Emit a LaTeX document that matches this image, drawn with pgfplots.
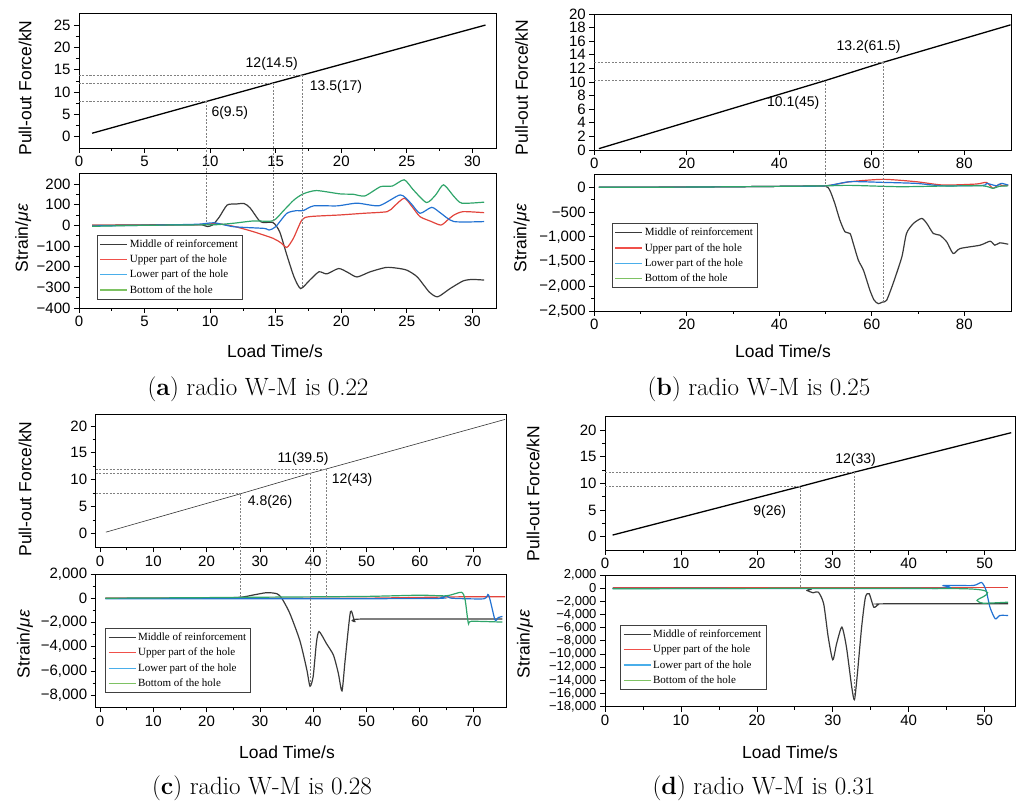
\documentclass[border=0pt]{standalone}
\usepackage{fontspec}
\usepackage{pgfplots}
\pgfplotsset{compat=1.18}
\newfontfamily\sansf{Liberation Sans}
\newfontfamily\timesf{Liberation Serif}
\definecolor{cblk}{HTML}{3A3A3A}
\definecolor{cred}{HTML}{E2443C}
\definecolor{cblu}{HTML}{2272D2}
\definecolor{cgrn}{HTML}{2FA56A}
\definecolor{lred}{HTML}{F0504A}
\definecolor{lblu}{HTML}{4AAEEA}
\definecolor{lgrn}{HTML}{7EC263}
\definecolor{guidec}{HTML}{808080}
\tikzset{
  guideline/.style={guidec, line width=0.8pt, dash pattern=on 2pt off 1.5pt},
  ann/.style={font=\sansf\fontsize{14}{16}\selectfont},
}
\pgfplotsset{
  base/.style={scale only axis, axis line style={line width=0.8pt},
    tick style={black, line width=0.7pt}, tick align=outside,
    xtick pos=bottom, ytick pos=left, major tick length=5pt, minor tick length=3pt,
    tick label style={font=\sansf\fontsize{15}{17}\selectfont},
    scaled ticks=false,
    /pgf/number format/assume math mode=true, anchor=south west},
  strain/.style={base, legend cell align=left,
    legend image code/.code={\draw[##1, line width=1.2pt] (0pt,0pt) -- (27pt,0pt);},
    legend style={anchor=north west, font=\timesf\fontsize{11}{12}\selectfont,
      draw=black!75, line width=0.5pt, inner sep=2.5pt, row sep=2pt, fill=white}},
}
\newcommand\leg{%
  \addlegendimage{cblk}\addlegendentry{Middle of reinforcement}
  \addlegendimage{lred}\addlegendentry{Upper part of the hole}
  \addlegendimage{lblu}\addlegendentry{Lower part of the hole}
  \addlegendimage{lgrn}\addlegendentry{Bottom of the hole}}
\begin{document}
\begin{tikzpicture}[x=1pt,y=1pt]
\path[use as bounding box] (0,0) rectangle (1018,805);
% ---------------- (a) top
\begin{axis}[base, at={(79pt,657pt)}, width=417pt, height=135pt,
  xmin=0, xmax=31.8, ymin=-2.5, ymax=27.7,
  xtick={0,5,...,30}, ytick={0,5,...,25}, minor tick num=1]
\addplot[black, line width=1.3pt] coordinates {(1,0.8) (9.7,7.9) (14.8,12.05) (17,13.8) (31,25)};
\draw[guideline] (axis cs:0,7.9) -- (axis cs:9.7,7.9);
\draw[guideline] (axis cs:0,12.05) -- (axis cs:14.8,12.05);
\draw[guideline] (axis cs:0,13.8) -- (axis cs:17,13.8);
\coordinate (a1) at (axis cs:9.7,7.9);
\coordinate (a2) at (axis cs:14.8,12.05);
\coordinate (a3) at (axis cs:17,13.8);
\node[ann] at (axis cs:14.7,16.4) {12(14.5)};
\node[ann] at (axis cs:11.5,5.3) {6(9.5)};
\node[ann] at (axis cs:19.6,11.1) {13.5(17)};
\end{axis}
% ---------------- (a) bottom
\begin{axis}[strain, at={(79pt,497pt)}, width=417pt, height=135pt,
  xmin=0, xmax=31.8, ymin=-400, ymax=253,
  xtick={0,5,...,30}, ytick={-400,-300,...,200}, minor tick num=1,
  yticklabels={−400,−300,−200,−100,0,100,200},
  legend style={at={(0.043,0.541)}}]
\leg
\addplot[cblk, line width=1.2pt, smooth, tension=0.4, forget plot] coordinates {(1,0) (5,2) (9,3) (9.5,0) (9.8,-6) (10.2,2) (10.7,40) (11.3,98) (12.0,103) (12.6,105) (13.05,84) (13.7,26) (14.05,13) (14.8,13) (15.3,-31) (15.85,-144) (16.4,-250) (16.9,-306) (17.6,-265) (18.3,-225) (18.9,-235) (19.8,-209) (20.5,-228) (21.2,-250) (22.2,-225) (23.4,-204) (24.2,-207) (25.0,-217) (25.8,-250) (26.7,-322) (27.35,-346) (28.3,-306) (29.3,-269) (30.0,-262) (30.9,-265)};
\addplot[cred, line width=1.2pt, smooth, tension=0.4, forget plot] coordinates {(1,0) (5,1) (9,3) (10.5,8) (11.8,-5) (13.3,-31) (14.8,-63) (15.4,-85) (15.85,-107) (16.35,-63) (17.0,26) (17.6,42) (19.9,50) (21.7,58) (23.5,66) (24.0,90) (24.8,131) (25.4,90) (26.0,42) (26.8,20) (27.6,1) (28.1,25) (28.6,50) (29.3,66) (30.9,61)};
\addplot[cblu, line width=1.2pt, smooth, tension=0.4, forget plot] coordinates {(1,-3) (5,0) (9,5) (10.3,12) (11.8,-7) (14.1,-15) (14.5,-23) (15.0,-7) (15.85,58) (16.6,71) (17.1,71) (17.9,94) (19.7,94) (21.2,107) (22.9,95) (24.5,147) (25.3,107) (26.0,58) (26.9,87) (27.6,58) (28.6,18) (30.9,18)};
\addplot[cgrn, line width=1.2pt, smooth, tension=0.4, forget plot] coordinates {(1,-5) (5,0) (9,2) (10.5,3) (11.8,10) (13.3,21) (14.8,22) (15.6,71) (16.4,123) (17.1,152) (18.1,168) (19.9,152) (20.9,150) (21.8,142) (23.0,187) (23.9,190) (24.8,220) (25.5,171) (26.5,110) (27.2,147) (27.8,196) (28.6,139) (29.2,107) (30.9,112)};
\coordinate (a1b) at (axis cs:9.7,0);
\coordinate (a2b) at (axis cs:14.8,15);
\coordinate (a3b) at (axis cs:17,-306);
\end{axis}
\draw[guideline] (a1) -- (a1b); \draw[guideline] (a2) -- (a2b); \draw[guideline] (a3) -- (a3b);
% ---------------- (b) top
\begin{axis}[base, at={(594.3pt,655pt)}, width=416.7pt, height=136pt,
  xmin=0, xmax=90.1, ymin=0, ymax=20,
  xtick={0,20,...,80}, ytick={0,2,...,20}, minor x tick num=1]
\addplot[black, line width=1.3pt] coordinates {(1,0.2) (49.9,10.2) (62.5,12.9) (90,18.4)};
\draw[guideline] (axis cs:0,10.2) -- (axis cs:49.9,10.2);
\draw[guideline] (axis cs:0,12.9) -- (axis cs:62.5,12.9);
\coordinate (b1) at (axis cs:49.9,10.2);
\coordinate (b2) at (axis cs:62.5,12.9);
\node[ann] at (axis cs:43,7.0) {10.1(45)};
\node[ann] at (axis cs:59.3,15.2) {13.2(61.5)};
\end{axis}
% ---------------- (b) bottom
\begin{axis}[strain, at={(594.3pt,494pt)}, width=416.7pt, height=137pt,
  xmin=0, xmax=90.1, ymin=-2500, ymax=270,
  xtick={0,20,...,80}, minor x tick num=1, ytick={-2500,-2000,...,0}, minor y tick num=1,
  yticklabels={{−2,500},{−2,000},{−1,500},{−1,000},−500,0},
  legend style={at={(0.042,0.64)}}]
\leg
\addplot[cblk, line width=1.2pt, smooth, tension=0.4, forget plot] coordinates {(1,0) (10,3) (20,8) (30,12) (40,20) (45,25) (49.9,26) (50.9,-55) (52.0,-325) (53.1,-663) (54.2,-900) (55.3,-933) (56.0,-1136) (57.1,-1474) (58.2,-1677) (59.6,-2082) (60.5,-2280) (61.4,-2352) (62.3,-2320) (63.2,-2285) (64.6,-1946) (66.5,-1406) (67.5,-933) (69.0,-730) (70.8,-628) (71.9,-730) (73.3,-933) (74.7,-967) (76.2,-1102) (77.6,-1338) (79.1,-1237) (83.4,-1170) (85.6,-1089) (86.6,-1170) (87.7,-1122) (89.5,-1150)};
\addplot[cred, line width=1.2pt, smooth, tension=0.4, forget plot] coordinates {(1,0) (20,5) (40,20) (49.9,30) (55.3,114) (62.5,162) (69.6,114) (75.4,47) (82.6,67) (84.8,100) (86.2,-20) (87.5,60) (88.3,30) (89.5,47)};
\addplot[cblu, line width=1.2pt, smooth, tension=0.4, forget plot] coordinates {(1,0) (20,5) (40,20) (49.9,30) (55.3,114) (62.5,100) (69.6,80) (75.4,30) (84.0,40) (84.8,80) (86.5,40) (87.0,30) (88.0,80) (89.5,45)};
\addplot[cgrn, line width=1.2pt, smooth, tension=0.4, forget plot] coordinates {(1,0) (20,5) (40,20) (49.9,30) (55.3,40) (66.0,13) (75.4,26) (84,30) (86.2,-20) (87.5,20) (89.5,30)};
\coordinate (b1b) at (axis cs:49.9,26);
\coordinate (b2b) at (axis cs:62.5,-2320);
\end{axis}
\draw[guideline] (b1) -- (b1b); \draw[guideline] (b2) -- (b2b);
% ---------------- (c) top
\begin{axis}[base, at={(95.7pt,257.7pt)}, width=411pt, height=133.3pt,
  xmin=-0.8, xmax=76.3, ymin=-2.5, ymax=22.2,
  xtick={0,10,...,70}, ytick={0,5,...,20}, minor tick num=1]
\addplot[black!80, line width=0.6pt] coordinates {(1.1,0.3) (26.3,7.4) (39.4,11.2) (42.4,12.0) (76,21.2)};
\draw[guideline] (axis cs:-0.8,7.4) -- (axis cs:26.3,7.4);
\draw[guideline] (axis cs:-0.8,11.2) -- (axis cs:39.4,11.2);
\draw[guideline] (axis cs:-0.8,12.0) -- (axis cs:42.4,12.0);
\coordinate (c1) at (axis cs:26.3,7.4);
\coordinate (c2) at (axis cs:39.4,11.2);
\coordinate (c3) at (axis cs:42.4,12.0);
\node[ann] at (axis cs:38.1,13.8) {11(39.5)};
\node[ann] at (axis cs:31.9,6.0) {4.8(26)};
\node[ann] at (axis cs:47.3,10.0) {12(43)};
\end{axis}
% ---------------- (c) bottom
\begin{axis}[strain, at={(95.7pt,97.7pt)}, width=411pt, height=133.3pt,
  xmin=-0.8, xmax=76.3, ymin=-9000, ymax=2000,
  xtick={0,10,...,70}, ytick={-8000,-6000,...,2000}, minor tick num=1,
  yticklabels={{−8,000},{−6,000},{−4,000},{−2,000},0,{2,000}},
  legend style={at={(0.023,0.593)}}]
\leg
\addplot[cblk, line width=1.2pt, smooth, tension=0.4, forget plot] coordinates {(1,0) (20,0) (26.3,80) (28.8,270) (31.3,460) (33.2,370) (34.1,0) (35.6,-1232) (37.5,-3500) (38.8,-5890) (39.4,-7264) (40.0,-6442) (40.6,-3700) (41.1,-2745) (42.5,-3750) (43.8,-4700) (44.7,-6160) (45.4,-7650) (46.0,-5070) (47.0,-1100) (47.8,-1920) (49.0,-1720) (75.5,-1720)};
\addplot[cred, line width=1.2pt, forget plot] coordinates {(1,0) (50,0) (65,100) (70,130) (76,130)};
\addplot[cblu, line width=1.2pt, smooth, tension=0.4, forget plot] coordinates {(1,-50) (60,-30) (64,50) (65,200) (66,0) (72,-50) (72.9,270) (74.1,-1780) (74.7,-1600) (75.5,-1500)};
\addplot[cgrn, line width=1.2pt, smooth, tension=0.4, forget plot] coordinates {(1,0) (20,50) (35,100) (50,150) (60,250) (65,200) (67.8,490) (68.5,-140) (69.1,-2054) (69.7,-1900) (75.5,-1970)};
\coordinate (c1b) at (axis cs:26.3,80);
\coordinate (c2b) at (axis cs:39.4,-7264);
\coordinate (c3b) at (axis cs:42.4,100);
\end{axis}
\draw[guideline] (c1) -- (c1b); \draw[guideline] (c2) -- (c2b); \draw[guideline] (c3) -- (c3b);
% ---------------- (d) top
\begin{axis}[base, at={(605pt,255pt)}, width=410pt, height=133.3pt,
  xmin=0, xmax=54, ymin=-2.5, ymax=22.5,
  xtick={0,10,...,50}, ytick={0,5,...,20}, minor tick num=1]
\addplot[black, line width=1.3pt] coordinates {(1,0.3) (25.7,9.4) (32.85,12.1) (53.5,19.5)};
\draw[guideline] (axis cs:0,9.4) -- (axis cs:25.7,9.4);
\draw[guideline] (axis cs:0,12.1) -- (axis cs:32.85,12.1);
\coordinate (d1) at (axis cs:25.7,9.4);
\coordinate (d2) at (axis cs:32.85,12.1);
\node[ann] at (axis cs:21.7,4.6) {9(26)};
\node[ann] at (axis cs:33,14.4) {12(33)};
\end{axis}
% ---------------- (d) bottom
\begin{axis}[strain, at={(605pt,98.3pt)}, width=410pt, height=131.7pt,
  xmin=0, xmax=54, ymin=-18000, ymax=2000,
  xtick={0,10,...,50}, minor x tick num=1, ytick={-18000,-16000,...,2000},
  yticklabel style={font=\sansf\fontsize{13}{14}\selectfont},
  yticklabels={{−18,000},{−16,000},{−14,000},{−12,000},{−10,000},{−8,000},{−6,000},{−4,000},{−2,000},0,{2,000}},
  legend style={at={(0.037,0.62)}}]
\leg
\addplot[cblk, line width=1.2pt, smooth, tension=0.4, forget plot] coordinates {(1,0) (25.7,0) (26.6,-350) (27.4,-700) (28.1,-600) (28.8,-2370) (29.4,-7440) (30.0,-10880) (30.5,-8450) (31.2,-5920) (31.8,-8960) (32.5,-15040) (32.85,-16950) (33.2,-13520) (33.8,-5920) (34.3,-1370) (34.8,-850) (35.4,-2890) (36.0,-2480) (36.9,-2380) (53.1,-2380)};
\addplot[cred, line width=1.2pt, forget plot] coordinates {(1,150) (53.1,150)};
\addplot[cblu, line width=1.2pt, smooth, tension=0.4, forget plot] coordinates {(1,-50) (43,-50) (44.6,410) (48.5,400) (49.6,860) (50.2,-350) (50.7,-2890) (51.4,-4650) (52.0,-4150) (53.1,-4150)};
\addplot[cgrn, line width=1.2pt, smooth, tension=0.4, forget plot] coordinates {(1,-100) (47.7,-100) (49.0,-1870) (49.8,-2280) (53.1,-2130)};
\coordinate (d1b) at (axis cs:25.7,150);
\coordinate (d2b) at (axis cs:32.85,-16950);
\end{axis}
\draw[guideline] (d1) -- (d1b); \draw[guideline] (d2) -- (d2b);
% ---------------- labels
\begin{scope}[every node/.style={font=\sansf\fontsize{17.5}{20}\selectfont}]
\node[rotate=90] at (25,717) {Pull-out Force/kN};
\node[rotate=90] at (521.7,717.5) {Pull-out Force/kN};
\node[rotate=90] at (25,316) {Pull-out Force/kN};
\node[rotate=90] at (533,311.5) {Pull-out Force/kN};
\node[rotate=90] at (23.3,567) {Strain/\textit{με}};
\node[rotate=90] at (521.7,567) {Strain/\textit{με}};
\node[rotate=90] at (25,161) {Strain/\textit{με}};
\node[rotate=90] at (525,161) {Strain/\textit{με}};
\node at (275,454) {Load Time/s};
\node at (783,454) {Load Time/s};
\node at (287,53) {Load Time/s};
\node at (790,53) {Load Time/s};
\end{scope}
\begin{scope}[every node/.style={font=\fontsize{25}{28}\selectfont}]
\node at (258,416) {(\textbf{a}) radio W-M is 0.22};
\node at (759,416) {(\textbf{b}) radio W-M is 0.25};
\node at (262,17) {(\textbf{c}) radio W-M is 0.28};
\node at (764,17) {(\textbf{d}) radio W-M is 0.31};
\end{scope}
\end{tikzpicture}
\end{document}
